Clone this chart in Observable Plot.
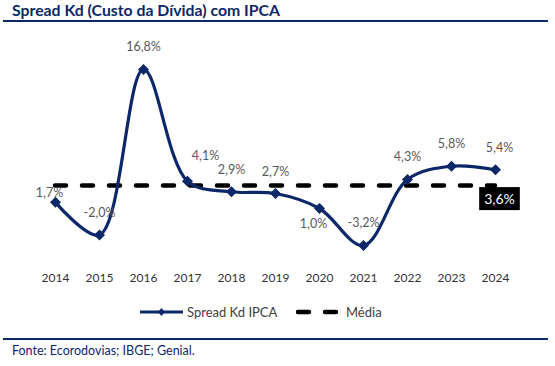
<!DOCTYPE html>
<html><head><meta charset="utf-8">
<script src="https://cdn.jsdelivr.net/npm/d3@7"></script>
<script src="https://cdn.jsdelivr.net/npm/@observablehq/plot@0.6"></script>
<style>
body{margin:0;background:#fff;font-family:Lato,"Open Sans",sans-serif;width:555px;height:366px;position:relative;overflow:hidden}
#title{position:absolute;left:12px;top:0px;font-weight:bold;font-size:15.8px;color:#0c2868;white-space:nowrap}
#rule1{position:absolute;left:3px;top:20px;width:545px;height:2px;background:#0c2868}
#chart{position:absolute;left:0;top:24px}
#legend{position:absolute;top:302px;left:0;width:555px;height:20px;font-size:13px;color:#404040}
#legend .it{position:absolute;top:0;display:flex;align-items:center;height:20px}
#rule2{position:absolute;left:3px;top:338px;width:545px;height:2px;background:#0c2868}
#caption{position:absolute;left:12px;top:343px;font-size:12.5px;color:#0c2868;white-space:nowrap}
</style>
</head><body>
<div id="title"></div>
<div id="rule1"></div>
<div id="chart"></div>
<div id="legend"></div>
<div id="rule2"></div>
<div id="caption"></div>
<script>
const titleText = "Spread Kd (Custo da Dívida) com IPCA";
const captionText = "Fonte: Ecorodovias; IBGE; Genial.";
const seriesName = "Spread Kd IPCA";
const meanName = "Média";
const years = ["2014","2015","2016","2017","2018","2019","2020","2021","2022","2023","2024"];
const spread = [1.7, -2.0, 16.8, 4.1, 2.9, 2.7, 1.0, -3.2, 4.3, 5.8, 5.4];
const media = 3.6;

const navy = "#0c2868";
const fmt = v => v.toFixed(1).replace(".", ",") + "%";
const data = years.map((y, i) => ({year: y, value: spread[i]}));

document.getElementById("title").textContent = titleText;
document.getElementById("caption").textContent = captionText;

const isYear = (...ys) => d => ys.includes(d.year);
const notYear = (...ys) => d => !ys.includes(d.year);
const labelStyle = {x: "year", y: "value", text: d => fmt(d.value), fill: "#595959", fontSize: 12.5};

const chart = Plot.plot({
  width: 555,
  height: 271,
  marginLeft: 52,
  marginRight: 58,
  marginTop: 25.6,
  marginBottom: 34.2,
  style: {fontFamily: "Lato, sans-serif", background: "transparent"},
  x: {type: "point", domain: years, padding: 0},
  y: {domain: [-5, 19], axis: null},
  marks: [
    Plot.axisX({tickSize: 0, tickPadding: 12, fontSize: 12, color: "#333", label: null}),
    Plot.ruleY([media], {y: d => d, x1: () => years[0], x2: () => years[years.length - 1],
      stroke: "#000", strokeWidth: 4.5, strokeDasharray: "11 16", strokeLinecap: "round"}),
    Plot.line(data, {x: "year", y: "value", curve: "catmull-rom", stroke: navy, strokeWidth: 3.2}),
    Plot.dot(data, {x: "year", y: "value", symbol: "diamond2", r: 4, fill: navy, stroke: navy}),
    Plot.text(data, {...labelStyle, filter: notYear("2014","2017","2020","2024"), dy: -22}),
    Plot.text(data, {...labelStyle, filter: isYear("2024"), dy: -22, dx: 4}),
    Plot.text(data, {...labelStyle, filter: isYear("2014"), dy: -9, dx: -6}),
    Plot.text(data, {...labelStyle, filter: isYear("2017"), dy: -25, dx: 18}),
    Plot.text(data, {...labelStyle, filter: isYear("2020"), dy: 15, dx: -6}),
    Plot.text([media], {x: () => years[years.length - 1], y: d => d, text: d => fmt(d),
      fill: "#fff", fontSize: 14, dx: 4, dy: 14, className: "mean-label"})
  ]
});
document.getElementById("chart").appendChild(chart);

// black box behind the mean label
chart.querySelectorAll(".mean-label text").forEach(t => {
  const b = t.getBBox();
  const r = document.createElementNS("http://www.w3.org/2000/svg", "rect");
  r.setAttribute("x", b.x - 5);
  r.setAttribute("y", b.y - 3);
  r.setAttribute("width", b.width + 10);
  r.setAttribute("height", b.height + 6);
  r.setAttribute("fill", "#000");
  if (t.getAttribute("transform")) r.setAttribute("transform", t.getAttribute("transform"));
  t.parentNode.insertBefore(r, t);
});

// legend
const legend = document.getElementById("legend");
legend.innerHTML =
  `<div class="it" style="left:140px"><svg width="45" height="20"><line x1="0" x2="43" y1="10" y2="10" stroke="${navy}" stroke-width="3.2"/><path d="M21.5 6 L25 10 L21.5 14 L18 10Z" fill="${navy}"/></svg><span style="margin-left:2px">${seriesName}</span></div>` +
  `<div class="it" style="left:296px"><svg width="48" height="20"><line x1="2" x2="40" y1="10" y2="10" stroke="#000" stroke-width="4.5" stroke-dasharray="11 16" stroke-linecap="round"/></svg><span style="margin-left:2px">${meanName}</span></div>`;
</script>
</body></html>
